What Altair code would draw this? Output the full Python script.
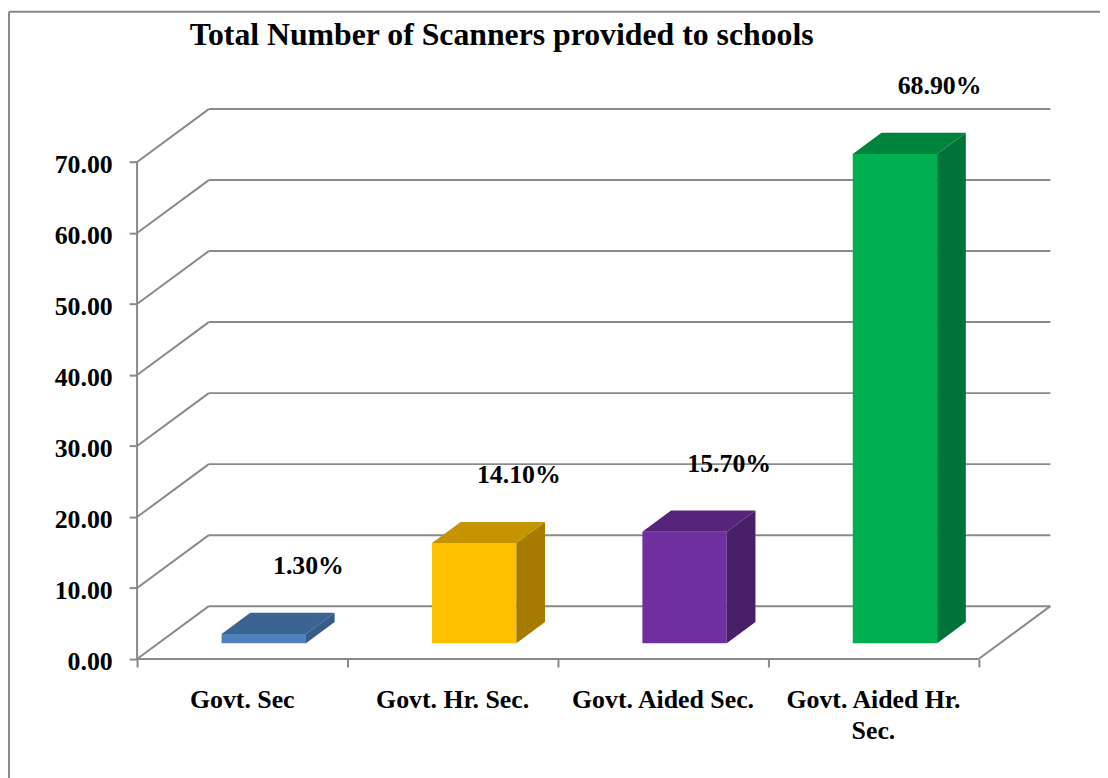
import altair as alt
import pandas as pd

# ---------------- data ----------------
categories = ["Govt. Sec", "Govt. Hr. Sec.", "Govt. Aided Sec.", "Govt. Aided Hr. Sec."]
tick_labels = ["Govt. Sec", "Govt. Hr. Sec.", "Govt. Aided Sec.", "Govt. Aided Hr.\nSec."]
values = [1.3, 14.1, 15.7, 68.9]
value_labels = ["1.30%", "14.10%", "15.70%", "68.90%"]
front_colors = ["#4F81BD", "#FFC000", "#7030A0", "#00B050"]
top_colors = ["#3C6493", "#C49500", "#56247B", "#00843D"]
side_colors = ["#375C88", "#A67C00", "#4A1F69", "#00733A"]
y_ticks = [0, 10, 20, 30, 40, 50, 60, 70]
title_text = "Total Number of Scanners provided to schools"

# ---------------- 3-D geometry (data units) ----------------
N = len(categories)
DEPTH_X = 0.341   # depth shift in category units
DEPTH_Y = 7.45    # depth shift in value units
BAR_W = 0.401     # bar width in category units
FRONT = 0.30      # bar front face depth fraction
THICK = 0.40      # bar depth fraction
Y_MAX = 70

FONT = "Liberation Serif"
GRID = "#8A8A8A"

xs = alt.Scale(domain=[0, N + DEPTH_X], nice=False, zero=False)
ys = alt.Scale(domain=[0, Y_MAX + DEPTH_Y], nice=False, zero=False)

x_axis = alt.Axis(
    values=list(range(N + 1)), labels=False, domain=False, grid=False,
    ticks=True, tickColor=GRID, tickWidth=2, tickSize=8, title=None)
y_axis = alt.Axis(
    values=y_ticks, format=".2f", domain=False, grid=False, ticks=True,
    tickColor=GRID, tickWidth=2, tickSize=8, labelPadding=17,
    labelFont=FONT, labelFontSize=26, labelFontWeight="bold",
    labelColor="black", labelOffset=3, title=None)

# grid / wall lines
grid_rows = []
for t in y_ticks:
    grid_rows.append(dict(x=0, y=t, x2=DEPTH_X, y2=t + DEPTH_Y))
    grid_rows.append(dict(x=DEPTH_X, y=t + DEPTH_Y, x2=N + DEPTH_X, y2=t + DEPTH_Y))
grid_rows.append(dict(x=0, y=0, x2=N, y2=0))
grid_rows.append(dict(x=N, y=0, x2=N + DEPTH_X, y2=DEPTH_Y))
grid_rows.append(dict(x=0, y=0, x2=0, y2=Y_MAX))
grid_df = pd.DataFrame(grid_rows)

base_y = FRONT * DEPTH_Y
sx = THICK * DEPTH_X
sy = THICK * DEPTH_Y

front_rows, side_rows, top_rows, lab_rows = [], [], [], []
for i, (c, v) in enumerate(zip(categories, values)):
    xl = i + 0.5 - BAR_W / 2 + FRONT * DEPTH_X
    xr = xl + BAR_W
    front_rows.append(dict(cat=c, x=xl, x2=xr, y=base_y, y2=base_y + v, color=front_colors[i]))
    side_rows.append(dict(cat=c, x=xr, y=base_y + v, y2=base_y, color=side_colors[i]))
    side_rows.append(dict(cat=c, x=xr + sx, y=base_y + v + sy, y2=base_y + sy, color=side_colors[i]))
    top_rows.append(dict(cat=c, y=base_y + v, x=xl, x2=xr, color=top_colors[i]))
    top_rows.append(dict(cat=c, y=base_y + v + sy, x=xl + sx, x2=xr + sx, color=top_colors[i]))
    lab_rows.append(dict(cat=c, x=(xl + xr) / 2, y=base_y + v, label=value_labels[i]))

front_df = pd.DataFrame(front_rows)
side_df = pd.DataFrame(side_rows)
top_df = pd.DataFrame(top_rows)
lab_df = pd.DataFrame(lab_rows)
cat_df = pd.DataFrame(dict(x=[i + 0.5 for i in range(N)], y=[0] * N, label=tick_labels))


def X(field="x"):
    return alt.X(f"{field}:Q", scale=xs, axis=x_axis)


def Y(field="y"):
    return alt.Y(f"{field}:Q", scale=ys, axis=y_axis)


grid = alt.Chart(grid_df).mark_rule(color=GRID, strokeWidth=2).encode(
    x=X(), x2="x2:Q", y=Y(), y2="y2:Q",
)

front = alt.Chart(front_df).mark_rect().encode(
    x=X(), x2="x2:Q", y=Y(), y2="y2:Q",
    color=alt.Color("color:N", scale=None),
)

side = alt.Chart(side_df).mark_area().encode(
    x=X(), y=Y(), y2="y2:Q",
    color=alt.Color("color:N", scale=None),
    detail="cat:N",
)

top = alt.Chart(top_df).mark_area(orient="horizontal").encode(
    y=Y(), x=X(), x2="x2:Q",
    color=alt.Color("color:N", scale=None),
    detail="cat:N",
)

labels = alt.Chart(lab_df).mark_text(
    font=FONT, fontSize=26, fontWeight="bold", color="black",
    dx=45, dy=-68, baseline="middle", align="center",
).encode(
    x=X(), y=Y(), text="label:N",
)

cats = alt.Chart(cat_df).mark_text(
    font=FONT, fontSize=26, fontWeight="bold", color="black",
    dy=28, baseline="top", align="center", lineBreak="\n", lineHeight=32,
).encode(
    x=X(), y=Y(), text="label:N",
)

one = pd.DataFrame(dict(k=[0]))
border = alt.Chart(one).mark_rule(color="#8A8A8A", strokeWidth=2).encode(
    x=alt.value(-129), y=alt.value(-98), y2=alt.value(700)
) + alt.Chart(one).mark_rule(color="#8A8A8A", strokeWidth=2).encode(
    x=alt.value(-129), x2=alt.value(1000), y=alt.value(-98)
)

title = alt.Chart(pd.DataFrame(dict(t=[title_text]))).mark_text(
    font=FONT, fontSize=32, fontWeight="bold", color="black",
    align="left", baseline="alphabetic",
).encode(
    x=alt.value(53), y=alt.value(-65), text="t:N",
)

chart = alt.layer(grid, front, side, top, labels, cats, border, title).properties(
    width=920, height=554,
    padding={"left": 130, "top": 99, "right": 50, "bottom": 117},
    autosize="none",
).configure_view(stroke=None)

chart.save("out.html", embed_options={"renderer": "svg", "actions": False})
